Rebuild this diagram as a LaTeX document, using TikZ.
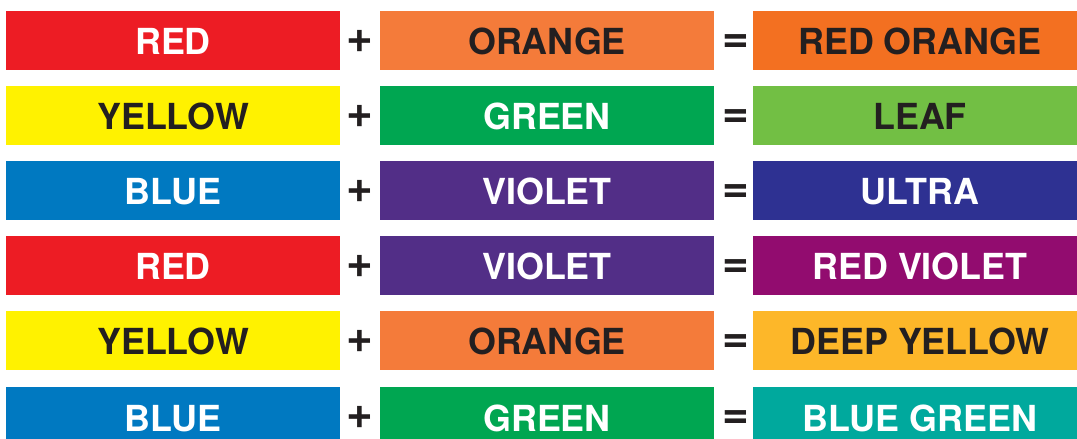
\documentclass[tikz,border=0pt]{standalone}
\usepackage{fontspec}
\setmainfont{TeX Gyre Heros}

\definecolor{ink}{HTML}{231F20}
\definecolor{pred}{HTML}{ED1C24}
\definecolor{porange}{HTML}{F47B3A}
\definecolor{predorange}{HTML}{F37021}
\definecolor{pyellow}{HTML}{FFF200}
\definecolor{pgreen}{HTML}{00A651}
\definecolor{pleaf}{HTML}{72BF44}
\definecolor{pblue}{HTML}{0079C1}
\definecolor{pviolet}{HTML}{522E87}
\definecolor{pultra}{HTML}{2E3192}
\definecolor{predviolet}{HTML}{920C6F}
\definecolor{pdeepyellow}{HTML}{FDB729}
\definecolor{pbluegreen}{HTML}{00A99D}

\tikzstyle{swatch} = [rectangle, inner sep = 0pt, minimum height = 59bp, minimum width = 334bp,
  text height = 29bp, text depth = 0pt, font = \fontsize{36}{40}\selectfont\bfseries]
\tikzstyle{dk} = [text = ink]
\tikzstyle{lt} = [text = white]
\tikzstyle{op} = [inner sep = 0pt, anchor = base, text = ink, font = \fontsize{46}{50}\selectfont\bfseries]

\begin{document}
\begin{tikzpicture}[x = 1bp, y = -1bp]
      \useasboundingbox (0, 0) rectangle (1077, 439);

      % RED + ORANGE = RED ORANGE
      \node[swatch, fill = pred, lt]          (a1) at (173,  40.5) {RED};
      \node[swatch, fill = porange, dk]       (b1) at (547,  40.5) {ORANGE};
      \node[swatch, fill = predorange, dk]    (c1) at (920,  40.5) {RED ORANGE};
      % YELLOW + GREEN = LEAF
      \node[swatch, fill = pyellow, dk]       (a2) at (173, 115.5) {YELLOW};
      \node[swatch, fill = pgreen, lt]        (b2) at (547, 115.5) {GREEN};
      \node[swatch, fill = pleaf, dk]         (c2) at (920, 115.5) {LEAF};
      % BLUE + VIOLET = ULTRA
      \node[swatch, fill = pblue, lt]         (a3) at (173, 190.5) {BLUE};
      \node[swatch, fill = pviolet, lt]       (b3) at (547, 190.5) {VIOLET};
      \node[swatch, fill = pultra, lt]        (c3) at (920, 190.5) {ULTRA};
      % RED + VIOLET = RED VIOLET
      \node[swatch, fill = pred, lt]          (a4) at (173, 265.5) {RED};
      \node[swatch, fill = pviolet, lt]       (b4) at (547, 265.5) {VIOLET};
      \node[swatch, fill = predviolet, lt]    (c4) at (920, 265.5) {RED VIOLET};
      % YELLOW + ORANGE = DEEP YELLOW
      \node[swatch, fill = pyellow, dk]       (a5) at (173, 340.5) {YELLOW};
      \node[swatch, fill = porange, dk]       (b5) at (547, 340.5) {ORANGE};
      \node[swatch, fill = pdeepyellow, dk]   (c5) at (920, 340.5) {DEEP YELLOW};
      % BLUE + GREEN = BLUE GREEN
      \node[swatch, fill = pblue, lt]         (a6) at (173, 416.5) {BLUE};
      \node[swatch, fill = pgreen, lt]        (b6) at (547, 416.5) {GREEN};
      \node[swatch, fill = pbluegreen, lt]    (c6) at (920, 416.5) {BLUE GREEN};

      % Signs
      \foreach \i/\y in {1/53, 2/128, 3/203, 4/278, 5/353, 6/429}
      {
        \node[op] (p\i) at (360, \y) {+};
        \node[op] (e\i) at (736, \y) {=};
      }
    \end{tikzpicture}
\end{document}
